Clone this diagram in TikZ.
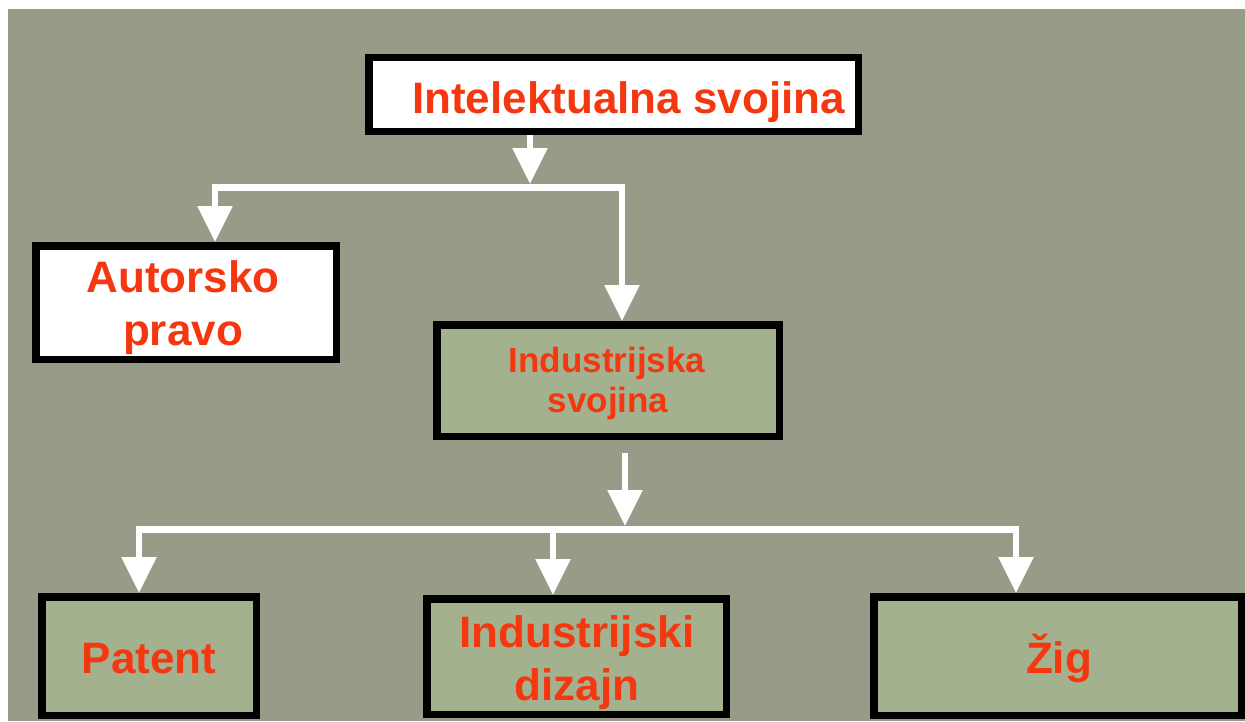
\documentclass[tikz,border=0pt]{standalone}
\usepackage{fontspec}
\setmainfont{Liberation Sans}
\usetikzlibrary{arrows.meta}
\definecolor{bg}{RGB}{151,156,136}
\definecolor{boxgreen}{RGB}{164,177,142}
\definecolor{txt}{RGB}{245,55,15}
\begin{document}
\begin{tikzpicture}[x=1pt,y=-1pt,
  box/.style={draw=black,line width=7.5pt,inner sep=0pt},
  wbox/.style={box,fill=white},
  gbox/.style={box,fill=boxgreen},
  lbl/.style={text=txt,inner sep=0pt,anchor=base,font=\bfseries\fontsize{44}{48}\selectfont},
  slbl/.style={lbl,font=\bfseries\fontsize{35}{40}\selectfont},
  conn/.style={draw=white,line width=6pt},
  bus/.style={draw=white,line width=7pt},
  tip/.style={-{Triangle[width=34pt,length=36pt]}}
]
\fill[white] (0,0) rectangle (1245,721);
\fill[bg] (8,9) rectangle (1245,721);
\useasboundingbox (0,0) rectangle (1245,721);

% boxes
\node[wbox,minimum width=489.5pt,minimum height=74pt] (top) at (613.5,94.5) {};
\node[wbox,minimum width=300.5pt,minimum height=113.5pt] (aut) at (186,302.5) {};
\node[gbox,minimum width=342.5pt,minimum height=111.5pt] (ind) at (608,380.5) {};
\node[gbox,minimum width=214.5pt,minimum height=118.5pt] (pat) at (149,656) {};
\node[gbox,minimum width=299.5pt,minimum height=115.5pt] (diz) at (576.5,656.5) {};
\node[gbox,minimum width=367.5pt,minimum height=118.5pt] (zig) at (1057.5,656) {};

% labels
\node[lbl] (topt) at (628.5,113) {Intelektualna svojina};
\node[lbl] (aut1) at (183,292) {Autorsko};
\node[lbl] (aut2) at (183,345) {pravo};
\node[slbl] (ind1) at (607,372) {Industrijska};
\node[slbl] (ind2) at (608,412) {svojina};
\node[lbl] (patt) at (149,673) {Patent};
\node[lbl] (diz1) at (577,647) {Industrijski};
\node[lbl] (diz2) at (577,700) {dizajn};
\node[lbl] (zigt) at (1059,673) {Žig};

% upper connectors
\coordinate (j1) at (530,184);
\coordinate (b1L) at (215,187);
\coordinate (b1R) at (622,187);
\draw[conn,tip] (top.south -| j1) -- (j1);
\draw[bus] ([xshift=-3pt]b1L) -- ([xshift=3pt]b1R);
\draw[conn,tip] (b1L) -- (b1L |- aut.north);
\draw[conn,tip] (b1R) -- (b1R |- ind.north);

% lower connectors
\coordinate (s2) at (625,453);
\coordinate (j2) at (625,526);
\coordinate (b2L) at (139,529);
\coordinate (b2M) at (553,529);
\coordinate (b2R) at (1016,529);
\draw[conn,tip] (s2) -- (j2);
\draw[bus] ([xshift=-3pt]b2L) -- ([xshift=3pt]b2R);
\draw[conn,tip] (b2L) -- (b2L |- pat.north);
\draw[conn,tip] (b2M) -- (b2M |- diz.north);
\draw[conn,tip] (b2R) -- (b2R |- zig.north);
\end{tikzpicture}
\end{document}
